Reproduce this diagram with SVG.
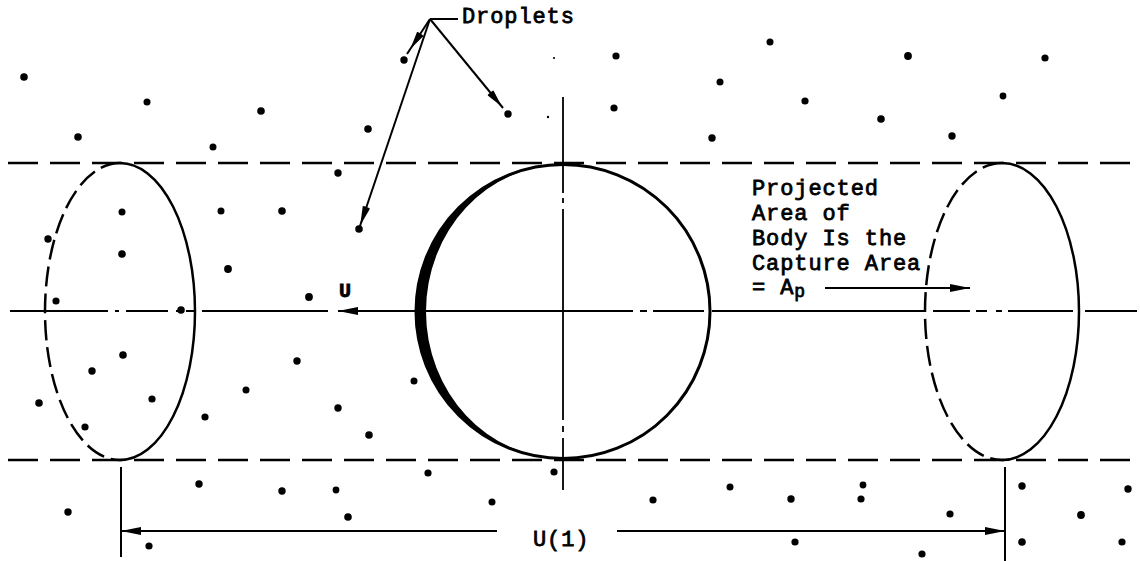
<svg xmlns="http://www.w3.org/2000/svg" width="1140" height="561" viewBox="0 0 1140 561">
<style>
.ln{stroke:#000;stroke-width:2;fill:none}
.dash{stroke:#000;stroke-width:2.5;fill:none;stroke-dasharray:30 12}
.edash{stroke:#000;stroke-width:2.5;fill:none;stroke-dasharray:20 7}
.sol{stroke:#000;stroke-width:2.5;fill:none}
.cl{stroke:#000;stroke-width:1.8;fill:none}
.t{font-family:"Liberation Mono","Courier New",monospace;font-size:22px;letter-spacing:0.9px;fill:#000;stroke:#000;stroke-width:0.8}
.dots circle{fill:#000}
.head{fill:#000;stroke:#000;stroke-width:1.5;stroke-linejoin:round}
</style>
<defs>
<marker id="ah" viewBox="0 0 20 10" refX="20" refY="5" markerWidth="20" markerHeight="10" markerUnits="userSpaceOnUse" orient="auto">
<path d="M0,1 L20,5 L0,9 Z" fill="#000"/>
</marker>
</defs>
<rect width="1140" height="561" fill="#fff"/>

<g id="tube">
<line class="dash" x1="8" y1="163" x2="1140" y2="163"/>
<line class="dash" x1="8" y1="460" x2="1140" y2="460"/>
</g>

<g id="centerlines">
<path class="cl" d="M10,311H108 M115,311H119 M126,311H168 M176,311H180 M186,311H194 M202,311H328"/>
<path class="cl" d="M415,311H633 M640,311H647 M653,311H704 M712,311H925 M933,311H970 M976,311H987 M996,311H1002 M1008,311H1073 M1085,311H1137"/>
<path class="cl" d="M563,97V193 M563,198V203 M563,209V420 M563,426V432 M563,438V490"/>
</g>

<g id="left-ellipse">
<path class="sol" d="M120,163 A75,148.5 0 0 1 120,460"/>
<path class="edash" d="M120,163 A75,148.5 0 0 0 120,460"/>
</g>

<g id="body">
<circle cx="563" cy="311.5" r="147" fill="none" stroke="#000" stroke-width="3"/>
<path d="M563,164.5 A147,147 0 0 0 563,458.5 A137,147 0 0 1 563,164.5 Z" fill="#000"/>
</g>

<g id="right-ellipse">
<path class="sol" d="M1002,163 A77,148.5 0 0 1 1002,460"/>
<path class="edash" d="M1002,163 A77,148.5 0 0 0 1002,460"/>
</g>

<g id="droplets" class="dots">
<circle cx="24" cy="77" r="3.8"/>
<circle cx="78" cy="137" r="3.8"/>
<circle cx="147" cy="102" r="3.5"/>
<circle cx="213" cy="147" r="3.5"/>
<circle cx="261" cy="111" r="3.8"/>
<circle cx="368" cy="129" r="3.8"/>
<circle cx="404" cy="60" r="3.7"/>
<circle cx="508" cy="114" r="3.7"/>
<circle cx="554" cy="58" r="1.1"/>
<circle cx="548" cy="117" r="1.2"/>
<circle cx="616" cy="56" r="3.6"/>
<circle cx="770" cy="42" r="3.5"/>
<circle cx="908" cy="56" r="3.9"/>
<circle cx="1045" cy="58" r="3.6"/>
<circle cx="720" cy="82" r="3.5"/>
<circle cx="614" cy="108" r="3.6"/>
<circle cx="805" cy="101" r="3.6"/>
<circle cx="881" cy="119" r="3.8"/>
<circle cx="1003" cy="96" r="3.4"/>
<circle cx="712" cy="138" r="3.7"/>
<circle cx="952" cy="136" r="3.7"/>
<circle cx="122" cy="212" r="3.5"/>
<circle cx="221" cy="211" r="3.5"/>
<circle cx="282" cy="211" r="3.8"/>
<circle cx="338" cy="173" r="3.7"/>
<circle cx="359" cy="229" r="3.8"/>
<circle cx="48" cy="239" r="3.7"/>
<circle cx="122" cy="254" r="3.8"/>
<circle cx="228" cy="269" r="3.9"/>
<circle cx="309" cy="297" r="3.9"/>
<circle cx="56" cy="301" r="3.6"/>
<circle cx="181" cy="310" r="3.8"/>
<circle cx="123" cy="355" r="3.8"/>
<circle cx="92" cy="371" r="3.7"/>
<circle cx="297" cy="361" r="3.7"/>
<circle cx="246" cy="390" r="3.5"/>
<circle cx="414" cy="381" r="3.5"/>
<circle cx="39" cy="403" r="3.8"/>
<circle cx="152" cy="399" r="3.6"/>
<circle cx="205" cy="417" r="3.6"/>
<circle cx="85" cy="427" r="3.6"/>
<circle cx="338" cy="408" r="3.7"/>
<circle cx="369" cy="435" r="3.8"/>
<circle cx="428" cy="473" r="3.6"/>
<circle cx="554" cy="472" r="3.6"/>
<circle cx="199" cy="484" r="3.7"/>
<circle cx="282" cy="491" r="3.7"/>
<circle cx="336" cy="490" r="3.4"/>
<circle cx="348" cy="517" r="3.8"/>
<circle cx="492" cy="502" r="3.5"/>
<circle cx="149" cy="546" r="3.6"/>
<circle cx="68" cy="512" r="3.7"/>
<circle cx="653" cy="500" r="3.6"/>
<circle cx="730" cy="487" r="3.5"/>
<circle cx="791" cy="499" r="3.7"/>
<circle cx="863" cy="485" r="3.4"/>
<circle cx="861" cy="499" r="3.6"/>
<circle cx="950" cy="514" r="3.6"/>
<circle cx="795" cy="542" r="3.6"/>
<circle cx="922" cy="554" r="3.6"/>
<circle cx="1022" cy="486" r="3.7"/>
<circle cx="1128" cy="489" r="3.7"/>
<circle cx="1081" cy="515" r="3.9"/>
<circle cx="1022" cy="542" r="3.8"/>
<circle cx="1122" cy="542" r="3.6"/>
</g>

<g id="connectors">
<line class="ln" x1="430" y1="19" x2="458" y2="19"/>
<line class="ln" x1="430" y1="19" x2="407" y2="54"/>
<path class="head" d="M412.3,46 L422.5,36 L417.5,32.7 Z"/>
<line class="ln" x1="430" y1="19" x2="503" y2="108"/>
<path class="head" d="M499.7,104 L493.1,91.3 L488.5,95.1 Z"/>
<line class="ln" x1="430" y1="19" x2="360" y2="226"/>
<path class="head" d="M361.4,222 L369,208.8 L363.4,206.8 Z"/>

<line class="ln" x1="415" y1="311" x2="338" y2="311" marker-end="url(#ah)"/>
<line class="ln" x1="825" y1="288" x2="970" y2="288" marker-end="url(#ah)"/>

<line class="ln" x1="121" y1="467" x2="121" y2="557"/>
<line class="ln" x1="1005" y1="467" x2="1005" y2="561"/>
<line class="ln" x1="497" y1="531" x2="121" y2="531" marker-end="url(#ah)"/>
<line class="ln" x1="617" y1="531" x2="1005" y2="531" marker-end="url(#ah)"/>
</g>

<g id="labels">
<text class="t" x="462" y="23">Droplets</text>
<text class="t" x="339" y="297" font-weight="bold" style="font-size:20px;letter-spacing:0">U</text>
<text class="t" x="752" y="195">Projected</text>
<text class="t" x="752" y="220">Area of</text>
<text class="t" x="752" y="245">Body Is the</text>
<text class="t" x="752" y="270">Capture Area</text>
<text class="t" x="752" y="294">= A<tspan dy="3" style="font-size:18px">p</tspan></text>
<text class="t" x="533" y="546">U(1)</text>
</g>
</svg>
